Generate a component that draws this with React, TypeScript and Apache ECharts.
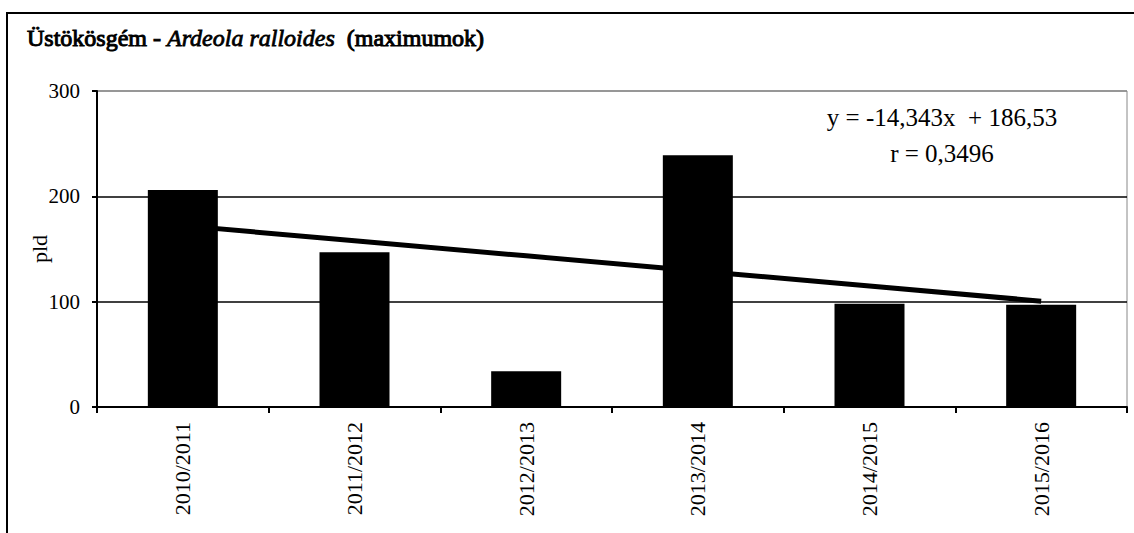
import React, { useEffect, useRef } from "react";
import * as echarts from "echarts";

const categories = ["2010/2011", "2011/2012", "2012/2013", "2013/2014", "2014/2015", "2015/2016"];
const maxValues = [206, 147, 34, 239, 98, 97];
const trendSlope = -14.343;
const trendIntercept = 186.53;
const yTicks = [0, 100, 200, 300];
const titleMain = "Üstökösgém - ";
const titleSpecies = "Ardeola ralloides";
const titleSuffix = "  (maximumok)";
const equationText = "y = -14,343x  + 186,53";
const rText = "r = 0,3496";
const yAxisName = "pld";

const FONT = "Liberation Serif";

export default function App() {
  const ref = useRef<HTMLDivElement>(null);
  useEffect(() => {
    if (!ref.current) return;
    const chart = echarts.init(ref.current, undefined, { renderer: "svg" });
    const trend = categories.map((_, i) => +(trendSlope * (i + 1) + trendIntercept).toFixed(3));
    chart.setOption({
      animation: false,
      backgroundColor: "#fff",
      textStyle: { fontFamily: FONT },
      grid: { left: 97, right: 7, top: 91, bottom: 126, show: true, borderColor: "#888", borderWidth: 1 },
      xAxis: {
        type: "category",
        data: categories,
        boundaryGap: true,
        axisLine: { lineStyle: { color: "#000", width: 2 } },
        axisTick: { show: true, interval: 0, length: 6, lineStyle: { color: "#000", width: 2 } },
        axisLabel: { rotate: 90, interval: 0, margin: 15, fontFamily: FONT, fontSize: 22, color: "#000" },
      },
      yAxis: {
        type: "value",
        min: yTicks[0],
        max: yTicks[yTicks.length - 1],
        interval: 100,
        name: yAxisName,
        nameLocation: "middle",
        nameGap: 47,
        nameMoveOverlap: false,
        nameTextStyle: { fontFamily: FONT, fontSize: 22, color: "#000" },
        axisLine: { show: true, lineStyle: { color: "#000", width: 2 } },
        axisTick: { show: true, length: 5, lineStyle: { color: "#000", width: 2 } },
        axisLabel: { margin: 17, fontFamily: FONT, fontSize: 21, color: "#000" },
        splitLine: { show: true, lineStyle: { color: ["#000", "#000", "#000", "#888"], width: 1.5 } },
      },
      series: [
        {
          type: "bar",
          data: maxValues,
          barWidth: 70,
          itemStyle: { color: "#000" },
        },
        {
          type: "line",
          data: trend,
          showSymbol: false,
          symbol: "none",
          lineStyle: { color: "#000", width: 5 },
          z: 5,
        },
      ],
      graphic: [
        {
          type: "rect",
          shape: { x: 7, y: 13, width: 1140, height: 540 },
          style: { fill: "none", stroke: "#000", lineWidth: 2 },
          silent: true,
          z: 100,
        },
        {
          type: "text",
          x: 27,
          y: 38,
          style: {
            text: `{b|${titleMain}}{i|${titleSpecies}}{b|${titleSuffix}}`,
            textVerticalAlign: "middle",
            rich: {
              b: { fontFamily: FONT, fontSize: 24, fill: "#000", stroke: "#000", lineWidth: 1 },
              i: { fontFamily: FONT, fontStyle: "italic", fontSize: 24, fill: "#000", stroke: "#000", lineWidth: 0.8 },
            },
          },
        },
        {
          type: "text",
          x: 942,
          y: 117,
          style: { text: equationText, font: `25px ${FONT}`, fill: "#000", textAlign: "center", textVerticalAlign: "middle" },
        },
        {
          type: "text",
          x: 942,
          y: 153,
          style: { text: rText, font: `25px ${FONT}`, fill: "#000", textAlign: "center", textVerticalAlign: "middle" },
        },
      ],
    });
    return () => chart.dispose();
  }, []);
  return <div ref={ref} style={{ position: "fixed", left: 0, top: 0, width: 1134, height: 533 }} />;
}
